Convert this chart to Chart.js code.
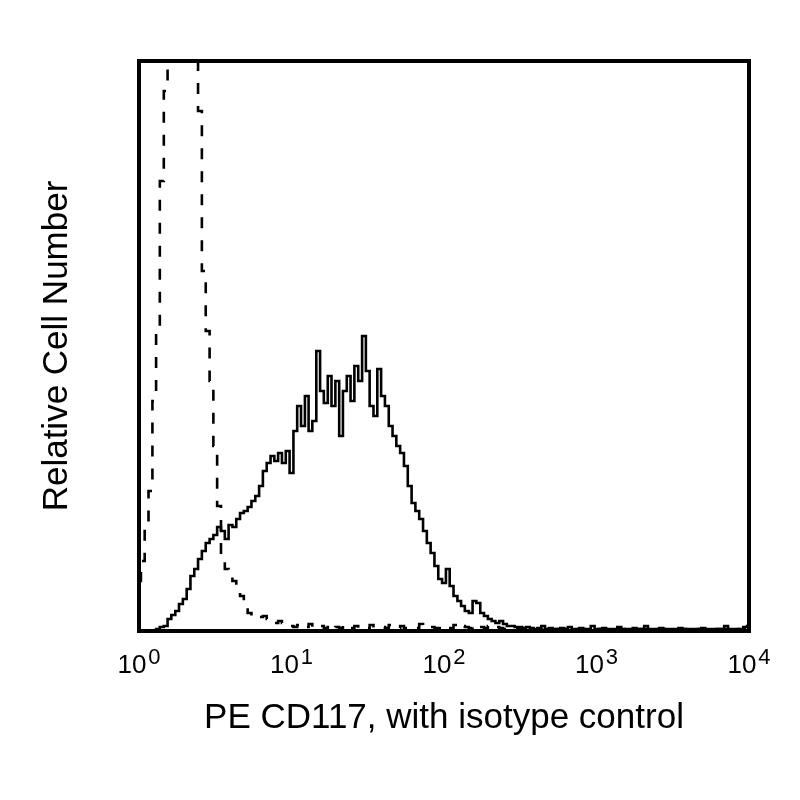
<!DOCTYPE html>
<html>
<head>
<meta charset="utf-8">
<script src="https://cdn.jsdelivr.net/npm/chart.js@4.4.1/dist/chart.umd.min.js"></script>
<style>
  html, body { margin: 0; padding: 0; background: #fff; }
  canvas { display: block; }
</style>
</head>
<body>
<canvas id="histCD117" width="800" height="800"></canvas>
<script>
// fluorescence bin centres (PE channel, log display, 40 bins per decade)
const fluor = [
  1.00, 1.06, 1.12, 1.19, 1.26, 1.33, 1.41, 1.50, 1.58, 1.68, 1.78, 1.88, 2.00, 2.11, 2.24, 2.37, 2.51, 2.66, 2.82, 2.99,
  3.16, 3.35, 3.55, 3.76, 3.98, 4.22, 4.47, 4.73, 5.01, 5.31, 5.62, 5.96, 6.31, 6.68, 7.08, 7.50, 7.94, 8.41, 8.91, 9.44,
  10.0, 10.6, 11.2, 11.9, 12.6, 13.3, 14.1, 15.0, 15.8, 16.8, 17.8, 18.8, 20.0, 21.1, 22.4, 23.7, 25.1, 26.6, 28.2, 29.9,
  31.6, 33.5, 35.5, 37.6, 39.8, 42.2, 44.7, 47.3, 50.1, 53.1, 56.2, 59.6, 63.1, 66.8, 70.8, 75.0, 79.4, 84.1, 89.1, 94.4,
  100, 106, 112, 119, 126, 133, 141, 150, 158, 168, 178, 188, 200, 211, 224, 237, 251, 266, 282, 299,
  316, 335, 355, 376, 398, 422, 447, 473, 501, 531, 562, 596, 631, 668, 708, 750, 794, 841, 891, 944,
  1000, 1060, 1120, 1190, 1260, 1330, 1410, 1500, 1580, 1680, 1780, 1880, 2000, 2110, 2240, 2370, 2510, 2660, 2820, 2990,
  3160, 3350, 3550, 3760, 3980, 4220, 4470, 4730, 5010, 5310, 5620, 5960, 6310, 6680, 7080, 7500, 7940, 8410, 8910, 9440,
  10000
];

// PE CD117 stained cells (solid)
const cd117 = [
  0, 0, 0, 0, 0, 2, 4, 5, 12, 16, 20, 27, 32, 42, 55, 62, 72, 80, 88, 92,
  96, 104, 100, 92, 106, 104, 112, 118, 120, 124, 130, 135, 145, 160, 168, 175, 170, 178, 168, 180,
  158, 200, 225, 205, 235, 200, 210, 280, 240, 228, 255, 225, 250, 195, 240, 255, 230, 265, 250, 295,
  260, 225, 215, 262, 235, 225, 205, 195, 185, 178, 165, 145, 128, 120, 112, 100, 88, 78, 65, 52,
  48, 62, 45, 35, 30, 25, 20, 18, 30, 28, 18, 15, 12, 10, 8, 10, 7, 5, 5, 4,
  4, 3, 4, 3, 2, 3, 5, 2, 3, 2, 2, 3, 2, 4, 2, 2, 3, 2, 2, 5,
  2, 2, 3, 2, 2, 2, 4, 2, 2, 2, 3, 2, 2, 5, 2, 2, 2, 3, 2, 2,
  2, 2, 3, 2, 2, 2, 2, 2, 3, 2, 2, 2, 2, 2, 5, 2, 2, 2, 2, 4,
  5
];

// isotype control (dashed), peak runs off scale
const isotype = [
  50, 70, 100, 140, 230, 300, 450, 540, 800, 1100, 1350, 1500, 1450, 1300, 1050, 720, 520, 360, 300, 250,
  185, 125, 72, 62, 60, 50, 45, 35, 25, 18, 15, 16, 14, 15, 12, 10, 8, 10, 8, 7,
  5, 4, 6, 3, 4, 7, 3, 4, 5, 3, 6, 3, 4, 3, 6, 3, 3, 5, 3, 4,
  3, 6, 3, 3, 4, 3, 6, 3, 3, 5, 3, 3, 4, 3, 7, 3, 3, 4, 3, 3,
  5, 3, 3, 6, 3, 5, 4, 3, 6, 4, 4, 3, 5, 3, 4, 3, 2, 3, 2, 2,
  2, 2, 2, 1, 2, 2, 1, 2, 2, 1, 2, 2, 2, 1, 2, 2, 1, 2, 2, 2,
  1, 2, 2, 1, 2, 2, 2, 1, 2, 2, 1, 2, 2, 2, 1, 2, 2, 1, 2, 2,
  2, 1, 2, 2, 1, 2, 2, 2, 1, 2, 2, 1, 2, 2, 2, 1, 2, 2, 1, 2,
  2
];

const tickValues = [1, 10, 100, 1000, 10000];
const tickExponents = ['0', '1', '2', '3', '4'];

const FONT = '"Liberation Sans", Arial, Helvetica, sans-serif';

// frame box + 10^n labels
const frameAndTicks = {
  id: 'frameAndTicks',
  afterDraw(chart) {
    const {ctx, chartArea: a} = chart;
    const xs = chart.scales.x;
    ctx.save();
    ctx.lineWidth = 4;
    ctx.strokeStyle = '#000';
    ctx.strokeRect(a.left, a.top, a.right - a.left, a.bottom - a.top);

    ctx.fillStyle = '#000';
    ctx.textBaseline = 'alphabetic';
    ctx.textAlign = 'left';
    xs.ticks.forEach((t, i) => {
      const px = xs.getPixelForValue(t.value);
      ctx.font = '26px ' + FONT;
      const w1 = ctx.measureText('10').width;
      ctx.font = '22px ' + FONT;
      const w2 = ctx.measureText(tickExponents[i]).width;
      const left = px - (w1 + 2 + w2) / 2;
      ctx.font = '26px ' + FONT;
      ctx.fillText('10', left, 673);
      ctx.font = '22px ' + FONT;
      ctx.fillText(tickExponents[i], left + w1 + 2, 664);
    });
    ctx.restore();
  }
};

new Chart(document.getElementById('histCD117'), {
  type: 'line',
  data: {
    labels: fluor,
    datasets: [
      {
        label: 'PE CD117',
        data: fluor.map((f, i) => ({x: f, y: cd117[i]})),
        borderColor: '#000',
        borderWidth: 2.6,
        stepped: 'middle',
        pointRadius: 0,
        fill: false
      },
      {
        label: 'Isotype control',
        data: fluor.map((f, i) => ({x: f, y: isotype[i]})),
        borderColor: '#000',
        borderWidth: 2.6,
        borderDash: [11, 12],
        stepped: 'middle',
        pointRadius: 0,
        fill: false
      }
    ]
  },
  options: {
    responsive: false,
    animation: false,
    devicePixelRatio: 1,
    layout: {
      padding: {left: 36, top: 61, right: 51, bottom: 61}
    },
    plugins: {
      legend: {display: false},
      tooltip: {enabled: false}
    },
    scales: {
      x: {
        type: 'logarithmic',
        min: 1,
        max: 10000,
        afterBuildTicks: axis => {
          axis.ticks = tickValues.map(v => ({value: v}));
        },
        grid: {display: false, drawTicks: false},
        border: {display: false},
        ticks: {display: false},
        title: {
          display: true,
          text: 'PE CD117, with isotype control',
          color: '#000',
          font: {family: FONT, size: 35},
          padding: {top: 66, bottom: 0}
        }
      },
      y: {
        type: 'linear',
        min: 0,
        max: 570,
        grid: {display: false, drawTicks: false},
        border: {display: false},
        ticks: {display: false},
        title: {
          display: true,
          text: 'Relative Cell Number',
          color: '#000',
          font: {family: FONT, size: 35},
          padding: {top: 0, bottom: 61}
        }
      }
    }
  },
  plugins: [frameAndTicks]
});
</script>
</body>
</html>
